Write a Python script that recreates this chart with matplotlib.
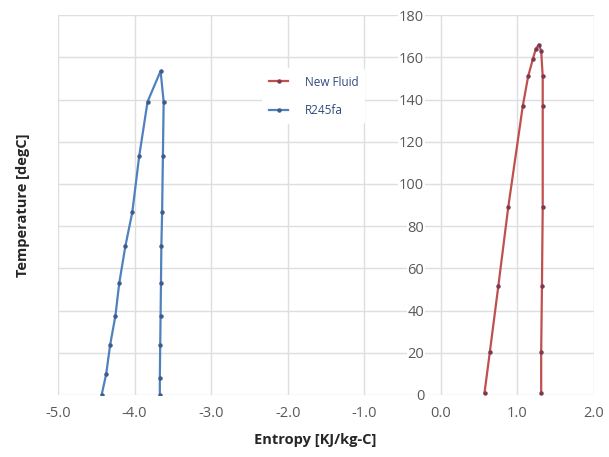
import matplotlib.pyplot as plt

# R245fa (blue) - saturation dome, liquid side then vapour side
r245_liq_s = [-4.43, -4.37, -4.32, -4.25, -4.20, -4.12, -4.03, -3.94, -3.83, -3.66]
r245_liq_t = [0, 10, 23.5, 37.5, 53, 70.5, 86.5, 113, 139, 153.5]
r245_vap_s = [-3.62, -3.63, -3.64, -3.65, -3.655, -3.66, -3.665, -3.67, -3.67]
r245_vap_t = [139, 113, 86.5, 70.5, 53, 37.5, 23.5, 8, 0]

# New Fluid (red)
new_liq_s = [0.57, 0.64, 0.75, 0.88, 1.07, 1.14, 1.20, 1.24, 1.28]
new_liq_t = [1, 20.5, 51.5, 89, 137, 151, 159, 164, 166]
new_vap_s = [1.31, 1.33, 1.33, 1.33, 1.32, 1.31, 1.31]
new_vap_t = [163, 151, 137, 89, 51.5, 20.5, 1]

x_ticks = [-5.0, -4.0, -3.0, -2.0, -1.0, 0.0, 1.0, 2.0]
y_ticks = [0, 20, 40, 60, 80, 100, 120, 140, 160, 180]

plt.rcParams['font.family'] = ['Open Sans', 'DejaVu Sans']

fig = plt.figure(figsize=(6.09, 4.57), dpi=100)
ax = fig.add_axes([0.0952, 0.1357, 0.8802, 0.8313])

blue = '#4f81bd'
red = '#c0504d'

ax.plot(new_liq_s + new_vap_s, new_liq_t + new_vap_t, color=red, lw=1.6,
        marker='o', ms=2.2, mfc='#7a3a52', mec='#7a3a52', label='New Fluid', zorder=3)
ax.plot(r245_liq_s + r245_vap_s, r245_liq_t + r245_vap_t, color=blue, lw=1.6,
        marker='o', ms=2.2, mfc='#3f5a8c', mec='#3f5a8c', label='R245fa', zorder=3)

ax.set_xlim(-5, 2)
ax.set_ylim(0, 180)
ax.set_xticks(x_ticks)
ax.set_xticklabels([f"{v:.1f}" for v in x_ticks])
ax.set_yticks(y_ticks)
ax.grid(True, color='#dedede', lw=1.0)
ax.set_axisbelow(True)

for s in ['top', 'right', 'bottom']:
    ax.spines[s].set_visible(False)
ax.spines['left'].set_position(('data', 0))
ax.spines['left'].set_visible(False)

ax.tick_params(axis='x', length=0, pad=8, labelsize=10.5, colors='#595959')
ax.tick_params(axis='y', length=0, pad=12, labelsize=10.5, colors='#595959')
for lbl in ax.get_yticklabels():
    lbl.set_bbox(dict(facecolor='white', edgecolor='none', pad=0.5))

ax.set_xlabel("Entropy [KJ/kg-C]", fontsize=10.5, fontweight='bold', color='#262626')
ax.set_ylabel("Temperature [degC]", fontsize=10.5, fontweight='bold', color='#262626')
ax.yaxis.set_label_coords(-0.053, 0.5)
ax.xaxis.set_label_coords(0.48, -0.1)

leg = ax.legend(loc='upper left', bbox_to_anchor=(0.37, 0.875), frameon=True,
                fontsize=8.5, handlelength=1.6, labelspacing=1.3, handletextpad=1.4,
                borderpad=0.6)
leg.get_frame().set_facecolor('white')
leg.get_frame().set_edgecolor('none')
leg.get_frame().set_alpha(1)
for t in leg.get_texts():
    t.set_color('#2f4b7c')

fig.savefig('out.png', dpi=100)
